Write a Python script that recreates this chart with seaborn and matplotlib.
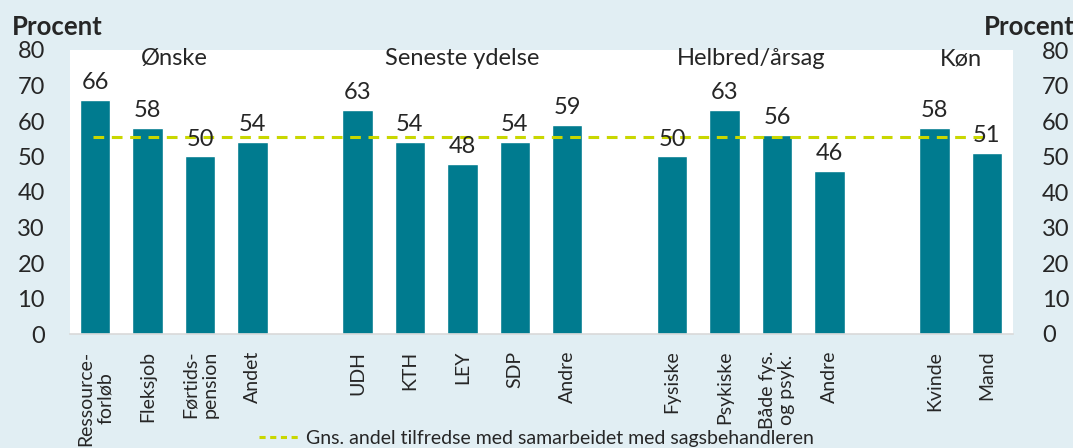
import numpy as np
import pandas as pd
import matplotlib
matplotlib.use("Agg")
import matplotlib.pyplot as plt
from matplotlib.lines import Line2D
import seaborn as sns

# Data
groups = ["Ønske", "Seneste ydelse", "Helbred/årsag", "Køn"]
group_categories = [
    ["Ressource-\nforløb", "Fleksjob", "Førtids-\npension", "Andet"],
    ["UDH", "KTH", "LEY", "SDP", "Andre"],
    ["Fysiske", "Psykiske", "Både fys.\nog psyk.", "Andre"],
    ["Kvinde", "Mand"],
]
group_values = [
    [66, 58, 50, 54],
    [63, 54, 48, 54, 59],
    [50, 63, 56, 46],
    [58, 51],
]
average = 55.5
legend_label = "Gns. andel tilfredse med samarbeidet med sagsbehandleren"

bg_color = "#e1eef3"
bar_color = "#007b8f"
line_color = "#c9d700"

sns.set_style("white")
plt.rcParams["font.family"] = ["Lato", "DejaVu Sans"]

# Build slot positions with one empty slot between groups
rows = []
group_centers = []
pos = 0
for g, cats, vals in zip(groups, group_categories, group_values):
    start = pos
    for c, v in zip(cats, vals):
        rows.append({"group": g, "label": c, "pos": pos, "value": v})
        pos += 1
    group_centers.append((start + pos - 1) / 2)
    pos += 1
df = pd.DataFrame(rows)

fig = plt.figure(figsize=(10.73, 4.48), dpi=100)
fig.patch.set_facecolor(bg_color)
ax = fig.add_axes([70 / 1073, 1 - 334 / 448, (1013 - 70) / 1073, (334 - 50) / 448])
ax.set_facecolor("white")

sns.barplot(data=df, x="pos", y="value", native_scale=True, width=0.58,
            color=bar_color, saturation=1, ax=ax)

ax.plot([-0.05, df["pos"].max()], [average, average], color=line_color,
        lw=2.2, ls=(0, (3.5, 2.5)), zorder=3)

for _, r in df.iterrows():
    ax.annotate(f"{r['value']:.0f}", (r["pos"], r["value"]), xytext=(0, 5),
                textcoords="offset points", ha="center", va="bottom", fontsize=17)

for g, c in zip(groups, group_centers):
    ax.text(c, 77.5, g, ha="center", va="center", fontsize=17)

ax.set_xlim(-0.48, 17.5)
ax.set_ylim(0, 80)
ax.set_yticks(range(0, 81, 10))
ax.tick_params(axis="y", length=0, labelsize=17, pad=18)
ax.set_xticks(df["pos"])
ax.set_xticklabels(df["label"], rotation=90, fontsize=14, va="top", ha="center",
                   multialignment="center", linespacing=1.2)
ax.tick_params(axis="x", length=0, pad=12)
ax.set_xlabel("")
ax.set_ylabel("")
for s in ["top", "left", "right"]:
    ax.spines[s].set_visible(False)
ax.spines["bottom"].set_color("#d9d9d9")
ax.spines["bottom"].set_linewidth(1.2)

ax2 = ax.twinx()
ax2.set_ylim(0, 80)
ax2.set_yticks(range(0, 81, 10))
ax2.tick_params(axis="y", length=0, labelsize=17, pad=21)
for s in ax2.spines.values():
    s.set_visible(False)

fig.text(12 / 1073, 1 - 27 / 448, "Procent", fontsize=18.5, fontweight="bold",
         ha="left", va="center")
fig.text(1 + 2 / 1073, 1 - 27 / 448, "Procent", fontsize=18.5, fontweight="bold",
         ha="right", va="center")

handle = Line2D([], [], color=line_color, lw=2.2, ls=(0, (2, 1.5)))
fig.legend([handle], [legend_label], loc="center", bbox_to_anchor=(0.5, 1 - 438 / 448),
           frameon=False, fontsize=14, handlelength=2.0, handletextpad=0.4,
           borderpad=0.1)

fig.savefig("out.png", dpi=100, facecolor=fig.get_facecolor())
